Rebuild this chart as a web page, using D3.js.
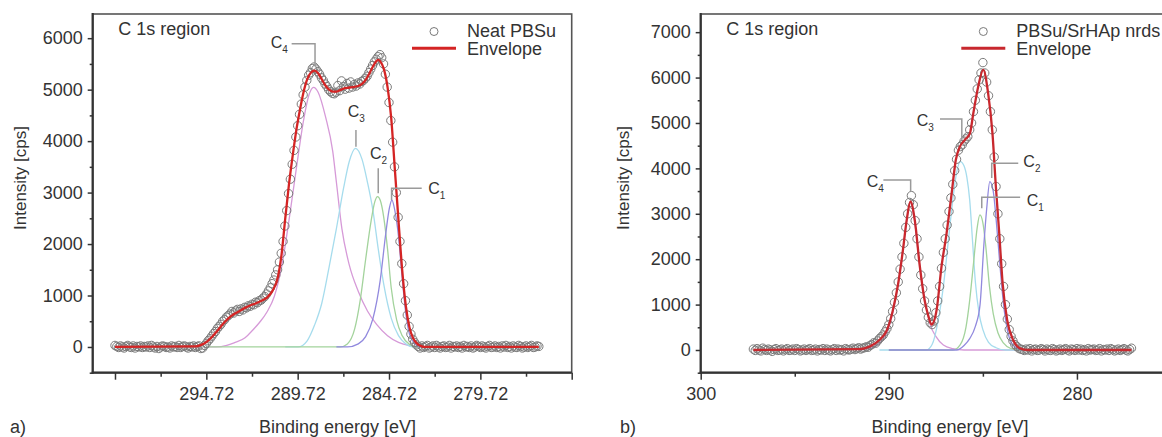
<!DOCTYPE html>
<html>
<head>
<meta charset="utf-8">
<script src="https://cdn.jsdelivr.net/npm/d3@7"></script>
<style>
body { margin: 0; background: #fff; }
text { font-family: "Liberation Sans", Arial, sans-serif; fill: #333; }
</style>
</head>
<body>
<script>
// ---------- panel a) Neat PBSu ----------
var aStartE = 299.72, aStepE = 0.1;   // energy grid of the measured points
var aPoints = [
  30, 10, -10, 20, 0, -20, 10, 30, 0, -10,
  20, -20, 10, 0, 20, -10, 10, 0, 20, -10,
  30, 0, -20, 10, -30, 0, 20, 10, -10, 0,
  -20, 20, 0, 10, -10, 30, -10, 10, 20, 0,
  -20, 10, 0, 20, -10, 10, 20, -30, -20, 30,
  70, 120, 160, 210, 260, 300, 360, 400, 440, 500,
  530, 580, 610, 640, 690, 660, 700, 730, 690, 740,
  720, 770, 760, 800, 790, 830, 820, 870, 860, 900,
  910, 950, 980, 1030, 1090, 1150, 1230, 1300, 1400, 1500,
  1650, 1820, 2050, 2350, 2650, 2980, 3260, 3550, 3820, 4080,
  4300, 4520, 4720, 4900, 5050, 5180, 5280, 5330, 5410, 5440,
  5400, 5350, 5300, 5230, 5180, 5110, 5060, 5000, 4960, 4930,
  4920, 4950, 5080, 4980, 5170, 5060, 5010, 5120, 5030, 5150,
  5050, 5100, 5070, 5130, 5110, 5160, 5180, 5220, 5260, 5330,
  5400, 5470, 5540, 5590, 5640, 5680, 5620, 5500, 5300, 5050,
  4750, 4400, 3980, 3500, 3000, 2520, 2050, 1620, 1230, 900,
  620, 400, 250, 150, 90, 40, 10, -20, 20, -10,
  10, 30, -20, 0, 20, -10, 30, 0, -20, 10,
  20, -10, 0, 30, -20, 10, 0, 20, -10, 10,
  -20, 30, 0, 10, -10, 20, -20, 0, 30, 10,
  -10, 20, 0, -20, 10, 30, -10, 0, 20, -10,
  10, -20, 20, 0, 30, -10, 10, -20, 20, 0,
  -10, 30, 10, -20, 0, 20, -10, 10, 30, -10,
  0, 20, 10
];
var aEnvE = [299.72, 295.3, 295.0, 294.7, 294.4, 294.1, 293.8, 293.5, 293.2, 292.9, 292.6, 292.3, 292.0, 291.7, 291.4, 291.1, 290.8, 290.6, 290.4, 290.2, 290.0, 289.8, 289.6, 289.4, 289.2, 289.0, 288.8, 288.6, 288.4, 288.2, 288.0, 287.8, 287.6, 287.4, 287.2, 287.0, 286.8, 286.6, 286.4, 286.2, 286.0, 285.8, 285.6, 285.4, 285.3, 285.2, 285.0, 284.8, 284.6, 284.4, 284.2, 284.0, 283.8, 283.6, 283.4, 283.2, 283.0, 282.8, 276.52];
var aEnvV = [0, 10, 40, 100, 200, 320, 450, 560, 640, 700, 760, 810, 850, 900, 960, 1090, 1360, 1800, 2500, 3150, 3700, 4200, 4600, 4950, 5200, 5330, 5370, 5320, 5200, 5080, 5000, 4960, 4960, 4990, 5020, 5035, 5045, 5055, 5070, 5110, 5190, 5310, 5450, 5560, 5580, 5550, 5400, 5050, 4450, 3450, 2450, 1500, 800, 380, 170, 70, 25, 0, 0];
var aC4E = [294.7, 294.2, 293.6, 293.2, 292.6, 292.2, 291.8, 291.4, 291.0, 290.6, 290.2, 289.8, 289.4, 289.1, 288.85, 288.6, 288.2, 287.8, 287.6, 287.3, 286.9, 286.4, 285.9, 285.4, 284.8, 284.2, 283.6, 283.0];
var aC4V = [0, 0, 30, 80, 180, 320, 480, 680, 980, 1550, 2450, 3450, 4400, 4900, 5045, 4950, 4480, 3800, 3200, 2300, 1600, 1080, 700, 440, 220, 90, 25, 0];
var aC3E = [290.4, 289.7, 289.2, 288.8, 288.4, 288.0, 287.6, 287.2, 286.9, 286.55, 286.2, 285.9, 285.6, 285.3, 285.0, 284.6, 284.2, 283.8, 283.4, 282.9];
var aC3V = [0, 0, 120, 420, 850, 1550, 2300, 3100, 3600, 3860, 3650, 3200, 2650, 1880, 1200, 560, 220, 60, 0, 0];
var aC2E = [294.7, 287.4, 287.0, 286.6, 286.3, 286.0, 285.7, 285.5, 285.35, 285.2, 285.0, 284.8, 284.6, 284.3, 284.0, 283.6, 283.2, 282.9];
var aC2V = [0, 0, 60, 350, 900, 1700, 2450, 2820, 2920, 2850, 2500, 1900, 1150, 520, 220, 50, 0, 0];
var aC1E = [287.6, 287.0, 286.4, 286.0, 285.6, 285.2, 284.9, 284.7, 284.56, 284.4, 284.2, 284.0, 283.8, 283.6, 283.3, 283.0, 282.7];
var aC1V = [0, 0, 60, 200, 550, 1300, 2200, 2700, 2855, 2650, 2150, 1350, 650, 250, 60, 0, 0];
var aXMajor = [299.72, 294.72, 289.72, 284.72, 279.72, 274.72];
var aXLabels = ["", "294.72", "289.72", "284.72", "279.72", ""];
var aXMinor = [297.22, 292.22, 287.22, 282.22, 277.22];
var aYMajor = [0, 1000, 2000, 3000, 4000, 5000, 6000];
var aYMinor = [-500, 500, 1500, 2500, 3500, 4500, 5500];

// ---------- panel b) PBSu/SrHAp nrds ----------
var bStartE = 297.2, bStepE = 0.1;
var bPoints = [
  20, -10, 30, 0, -20, 40, 10, -10, 20, 0,
  -30, 10, 30, -10, 0, 20, -20, 10, 30, -10,
  0, 20, -10, 30, 10, -20, 0, 20, -10, 10,
  30, -10, 0, 20, -20, 10, 0, 30, -10, 20,
  0, -20, 10, 30, -10, 20, 0, 10, -20, 30,
  10, 0, 20, 40, 10, 30, 50, 20, 40,
  50, 70, 60, 100, 120, 160, 150, 200, 250, 290,
  330, 400, 470, 560, 690, 850, 1050, 1260, 1500, 1780,
  2050, 2350, 2700, 3000, 3250, 3400, 3200, 2850, 2450, 2050,
  1650, 1350, 1080, 880, 720, 600, 560, 640, 820, 1080,
  1400, 1800, 2150, 2450, 2750, 3050, 3350, 3650, 3950, 4200,
  4400, 4480, 4520, 4600, 4650, 4700, 4850, 5000, 5250, 5500,
  5750, 5950, 6100, 6330, 6100, 5900, 5600, 5250, 4850, 4250,
  3600, 3000, 2450, 1900, 1400, 1000, 680, 450, 300, 200,
  120, 80, 40, 20, 10,
  -10, 20, 0, 30, -20, 10, 20, -10, 0, 30,
  10, -20, 20, 0, -10, 30, 10, -20, 0, 20,
  -10, 10, 30, 0, -20, 20, 10, -10, 30, 0,
  20, -10, 10, -20, 30, 0, 10, 20, -10, 0,
  30, -20, 10, 0, 20, -10, 30, 10, -20, 0,
  20, -10, 10, 30, 0, -20, 10, 40
];
var bEnvE = [297.2, 291.6, 291.0, 290.5, 290.1, 289.8, 289.5, 289.25, 289.05, 288.85, 288.62, 288.35, 288.1, 287.9, 287.73, 287.46, 287.2, 286.93, 286.66, 286.44, 286.22, 285.96, 285.69, 285.51, 285.25, 284.98, 284.72, 284.49, 284.31, 284.13, 283.95, 283.71, 283.39, 283.03, 282.6, 277.1];
var bEnvV = [0, 20, 80, 220, 440, 850, 1470, 2200, 2860, 3270, 2860, 1835, 1100, 750, 560, 880, 1835, 2570, 3450, 4185, 4480, 4625, 4770, 5210, 5800, 6170, 5650, 4770, 3600, 2570, 1470, 660, 220, 37, 0, 0];
var bC4E = [291.6, 291.0, 290.5, 290.1, 289.8, 289.5, 289.25, 289.05, 288.85, 288.65, 288.4, 288.1, 287.8, 287.5, 287.1, 286.6, 286.0, 283.0];
var bC4V = [0, 40, 150, 380, 800, 1450, 2200, 2850, 3250, 2900, 2000, 1150, 560, 300, 110, 30, 0, 0];
var bC3E = [290.5, 288.0, 287.7, 287.4, 287.1, 286.85, 286.6, 286.4, 286.2, 286.0, 285.85, 285.7, 285.55, 285.4, 285.2, 285.0, 284.7, 284.3, 283.8, 283.0];
var bC3V = [0, 0, 120, 600, 1400, 2350, 3300, 3900, 4150, 4050, 3800, 3300, 2400, 1500, 800, 450, 170, 50, 0, 0];
var bC2E = [290.0, 286.4, 286.0, 285.7, 285.4, 285.15, 284.95, 284.8, 284.63, 284.45, 284.3, 284.1, 283.9, 283.7, 283.5, 283.2, 282.9, 282.5];
var bC2V = [0, 0, 100, 250, 520, 1000, 2300, 3100, 3710, 3500, 2900, 1900, 1000, 450, 170, 40, 0, 0];
var bC1E = [290.0, 286.6, 286.2, 285.9, 285.7, 285.5, 285.3, 285.16, 285.0, 284.85, 284.65, 284.45, 284.2, 283.9, 283.5, 283.0, 282.6];
var bC1V = [0, 0, 120, 500, 1100, 1900, 2700, 2975, 2800, 2300, 1400, 800, 380, 150, 30, 0, 0];
var bXMajor = [300, 290, 280];
var bXLabels = ["300", "290", "280"];
var bXMinor = [295, 285];
var bYMajor = [0, 1000, 2000, 3000, 4000, 5000, 6000, 7000];
var bYMinor = [-500, 500, 1500, 2500, 3500, 4500, 5500, 6500];

var W = 1162, H = 437;
var svg = d3.select("body").append("svg").attr("width", W).attr("height", H);
svg.append("rect").attr("width", W).attr("height", H).attr("fill", "#fff");

var PINK = "#d69ad8", CYAN = "#a6dced", GREEN = "#a3d39c", PURPLE = "#9189de";

function pairs(E, V) { return E.map(function(e, i) { return [e, V[i]]; }); }

function drawPanel(p) {
  var x = d3.scaleLinear().domain(p.xDomain).range(p.xRange);
  var y = d3.scaleLinear().domain(p.yDomain).range([372.7, 14]);
  var g = svg.append("g");
  var x0 = p.xRange[0], x1 = p.xRange[1];

  // frame
  g.append("rect").attr("x", x0).attr("y", 14).attr("width", x1 - x0).attr("height", 358.7)
    .attr("fill", "none").attr("stroke", "#555").attr("stroke-width", 1.6);

  // components
  var line = d3.line().x(function(d) { return x(d[0]); }).y(function(d) { return y(d[1]); })
    .curve(d3.curveMonotoneX);
  p.comps.forEach(function(c) {
    g.append("path").datum(pairs(c.E, c.V).sort(function(a, b) { return a[0] - b[0]; }))
      .attr("d", line).attr("fill", "none").attr("stroke", c.color).attr("stroke-width", 1.3);
  });

  // measured points
  var pts = p.points.map(function(v, i) { return [+(p.startE - p.stepE * i).toFixed(2), v]; });
  g.selectAll("circle.pt").data(pts).enter().append("circle").attr("class", "pt")
    .attr("cx", function(d) { return x(d[0]); })
    .attr("cy", function(d) { return y(d[1]); })
    .attr("r", 4.2).attr("fill", "none").attr("stroke", "#7a7a7a").attr("stroke-width", 1);

  // envelope
  g.append("path").datum(pairs(p.envE, p.envV).sort(function(a, b) { return a[0] - b[0]; }))
    .attr("d", line).attr("fill", "none").attr("stroke", p.envColor).attr("stroke-width", 2.3);

  // axes
  var xa = g.append("g").attr("transform", "translate(0,372.7)")
    .call(d3.axisBottom(x).tickValues(p.xMajor).tickSize(7).tickSizeOuter(0).tickPadding(8)
      .tickFormat(function(d, i) { return p.xLabels[i]; }));
  var xm = g.append("g").attr("transform", "translate(0,372.7)")
    .call(d3.axisBottom(x).tickValues(p.xMinor).tickSize(4).tickSizeOuter(0).tickFormat(""));
  var ya = g.append("g").attr("transform", "translate(" + x0 + ",0)")
    .call(d3.axisLeft(y).tickValues(p.yMajor).tickSize(5).tickSizeOuter(0).tickPadding(5)
      .tickFormat(d3.format("d")));
  var ym = g.append("g").attr("transform", "translate(" + x0 + ",0)")
    .call(d3.axisLeft(y).tickValues(p.yMinor).tickSize(3).tickSizeOuter(0).tickFormat(""));
  [xa, xm, ya, ym].forEach(function(a) {
    a.select(".domain").remove();
    a.selectAll("line").attr("stroke", "#333").attr("stroke-width", 1.5);
    a.selectAll("text").attr("font-size", 18).attr("fill", "#333")
      .attr("font-family", "'Liberation Sans', Arial, sans-serif");
  });
  g.append("line").attr("x1", x0).attr("x2", x0).attr("y1", 13).attr("y2", 373.7)
    .attr("stroke", "#333").attr("stroke-width", 2.2);
  g.append("line").attr("x1", x0 - 1).attr("x2", x1).attr("y1", 372.7).attr("y2", 372.7)
    .attr("stroke", "#333").attr("stroke-width", 2.2);

  // texts
  g.append("text").attr("x", x0 + 25.5).attr("y", 35).attr("font-size", 18).text("C 1s region");
  g.append("text").attr("transform", "translate(" + p.yTitleX + ",178) rotate(-90)")
    .attr("text-anchor", "middle").attr("font-size", 17).text("Intensity [cps]");
  g.append("text").attr("x", p.xTitleX).attr("y", 433).attr("text-anchor", "middle")
    .attr("font-size", 18).text("Binding energy [eV]");
  g.append("text").attr("x", p.tagX).attr("y", 433).attr("font-size", 18).text(p.tag);

  // legend
  g.append("circle").attr("cx", p.legX).attr("cy", 31.5).attr("r", 4)
    .attr("fill", "none").attr("stroke", "#7a7a7a").attr("stroke-width", 1);
  g.append("line").attr("x1", p.legX - 22).attr("x2", p.legX + 22).attr("y1", 48.3).attr("y2", 48.3)
    .attr("stroke", p.envColor).attr("stroke-width", 3);
  g.append("text").attr("x", p.legX + 33).attr("y", 37).attr("font-size", 18).text(p.name);
  g.append("text").attr("x", p.legX + 33).attr("y", 55).attr("font-size", 18).text("Envelope");

  // peak labels with leader lines
  var leader = d3.line().x(function(d) { return x(d[0]); }).y(function(d) { return y(d[1]); });
  p.peakLabels.forEach(function(l) {
    g.append("path").attr("d", leader(l.lead)).attr("fill", "none")
      .attr("stroke", "#9a9a9a").attr("stroke-width", 1.5);
    var t = g.append("text").attr("x", x(l.at[0])).attr("y", y(l.at[1])).attr("font-size", 16);
    t.append("tspan").text("C");
    t.append("tspan").attr("dy", 5).attr("font-size", 10).text(l.n);
  });
}

drawPanel({
  xDomain: [300.94, 274.72], xRange: [92.7, 571.7], yDomain: [-500, 6470],
  startE: aStartE, stepE: aStepE, points: aPoints, envE: aEnvE, envV: aEnvV, envColor: "#d42424",
  comps: [
    { E: aC4E, V: aC4V, color: PINK },
    { E: aC3E, V: aC3V, color: CYAN },
    { E: aC2E, V: aC2V, color: GREEN },
    { E: aC1E, V: aC1V, color: PURPLE }
  ],
  xMajor: aXMajor, xLabels: aXLabels, xMinor: aXMinor, yMajor: aYMajor, yMinor: aYMinor,
  yTitleX: 26, xTitleX: 337.5, tag: "a)", tagX: 10, legX: 434, name: "Neat PBSu",
  peakLabels: [
    { n: "4", at: [291.2, 5810], lead: [[290.05, 5890], [288.77, 5890], [288.77, 5450]] },
    { n: "3", at: [286.98, 4462], lead: [[286.53, 4217], [286.53, 3892]] },
    { n: "2", at: [285.76, 3653], lead: [[285.31, 3473], [285.31, 2987]] },
    { n: "1", at: [282.57, 2973], lead: [[282.93, 3084], [284.58, 3084], [284.58, 2857]] }
  ]
});

drawPanel({
  xDomain: [300, 275], xRange: [700.7, 1171], yDomain: [-500, 7400],
  startE: bStartE, stepE: bStepE, points: bPoints, envE: bEnvE, envV: bEnvV, envColor: "#c8282e",
  comps: [
    { E: bC4E, V: bC4V, color: PINK },
    { E: bC3E, V: bC3V, color: CYAN },
    { E: bC1E, V: bC1V, color: GREEN },
    { E: bC2E, V: bC2V, color: PURPLE }
  ],
  xMajor: bXMajor, xLabels: bXLabels, xMinor: bXMinor, yMajor: bYMajor, yMinor: bYMinor,
  yTitleX: 629, xTitleX: 950, tag: "b)", tagX: 620, legX: 983.3, name: "PBSu/SrHAp nrds",
  peakLabels: [
    { n: "4", at: [291.17, 3581], lead: [[290.29, 3744], [288.84, 3744], [288.84, 3487]] },
    { n: "3", at: [288.52, 4941], lead: [[287.28, 5088], [286.12, 5088], [286.12, 4648]] },
    { n: "2", at: [282.85, 4022], lead: [[283.12, 4112], [284.53, 4112], [284.53, 3789]] },
    { n: "1", at: [282.67, 3178], lead: [[283.02, 3363], [285.06, 3363], [285.06, 3121]] }
  ]
});
</script>
</body>
</html>
